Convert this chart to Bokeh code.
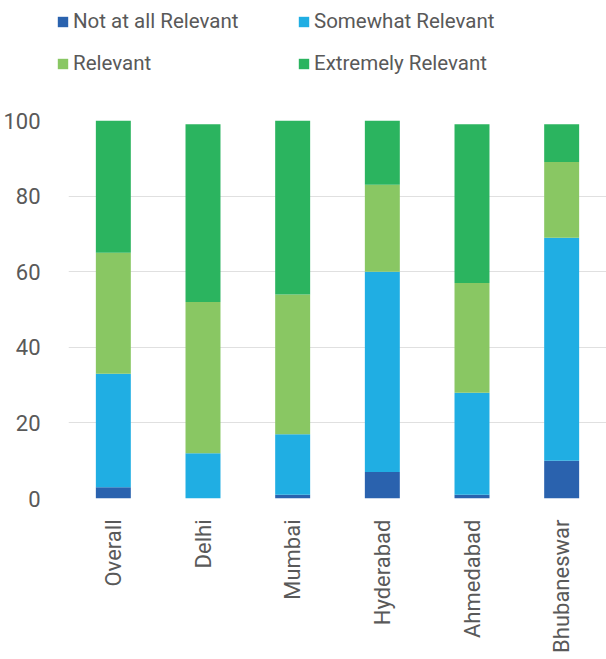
from bokeh.plotting import figure
from bokeh.layouts import column
from bokeh.models import Range1d, FactorRange, Legend, LegendItem, FixedTicker
from bokeh.embed import file_html
from bokeh.resources import INLINE
import math

cities = ["Overall", "Delhi", "Mumbai", "Hyderabad", "Ahmedabad", "Bhubaneswar"]
not_at_all = [3, 0, 1, 7, 1, 10]
somewhat = [30, 12, 16, 53, 27, 59]
relevant = [32, 40, 37, 23, 29, 20]
extremely = [35, 47, 46, 17, 42, 10]
series_names = ["Not at all Relevant", "Somewhat Relevant", "Relevant", "Extremely Relevant"]
y_ticks = [0, 20, 40, 60, 80, 100]

colors = ["#2A62AE", "#20AEE3", "#89C763", "#2BB45F"]
FONT = "Roboto"
TEXT = "#595959"

data = dict(city=cities)
for name, vals in zip(series_names, [not_at_all, somewhat, relevant, extremely]):
    data[name] = vals

# --- main stacked bar chart ---
p = figure(
    x_range=FactorRange(*cities, range_padding=0),
    y_range=Range1d(0, 100),
    width=606, height=559,
    output_backend="svg", toolbar_location=None,
    min_border_left=68, min_border_right=0, min_border_top=20, min_border_bottom=161,
)
p.frame_align = False
p.outline_line_color = None
p.background_fill_color = "white"

p.vbar_stack(series_names, x="city", width=0.39, color=colors,
             line_color=None, source=data)

p.xgrid.grid_line_color = None
p.ygrid.grid_line_color = "#E0E0E0"
p.ygrid.grid_line_width = 1
p.yaxis.ticker = FixedTicker(ticks=y_ticks)

for ax in (p.xaxis, p.yaxis):
    ax.axis_line_color = None
    ax.major_tick_line_color = None
    ax.minor_tick_line_color = None
    ax.major_label_text_font = FONT
    ax.major_label_text_font_size = "22px"
    ax.major_label_text_color = TEXT

p.yaxis.major_label_standoff = 22
p.xaxis.major_label_orientation = math.pi / 2
p.xaxis.major_label_standoff = 15

# --- legend strip on top: same stacks, kept out of view, only their legend shows ---
lg = figure(
    x_range=FactorRange(*cities, range_padding=0),
    y_range=Range1d(1000, 1100),
    width=606, height=100,
    output_backend="svg", toolbar_location=None,
    x_axis_location=None, y_axis_location=None,
    min_border=0,
)
lg.frame_align = False
lg.grid.visible = False
lg.outline_line_color = None
leg_renderers = lg.vbar_stack(series_names, x="city", width=0.39, color=colors,
                              line_color=None, source=data)

by_name = dict(zip(series_names, leg_renderers))
# column-major fill: first column then second column
order = ["Not at all Relevant", "Relevant", "Somewhat Relevant", "Extremely Relevant"]
items = [LegendItem(label=n, renderers=[by_name[n]]) for n in order]
legend = Legend(
    items=items, ncols=2, location=(56, 22),
    label_text_font=FONT, label_text_font_size="20.5px", label_text_color=TEXT,
    glyph_width=13, glyph_height=13, label_standoff=4,
    label_height=30, label_width=212, spacing=12,
    border_line_color=None, background_fill_alpha=0, padding=0, margin=0,
)
lg.add_layout(legend, "center")

open("out.html", "w").write(file_html(column(lg, p), INLINE))
